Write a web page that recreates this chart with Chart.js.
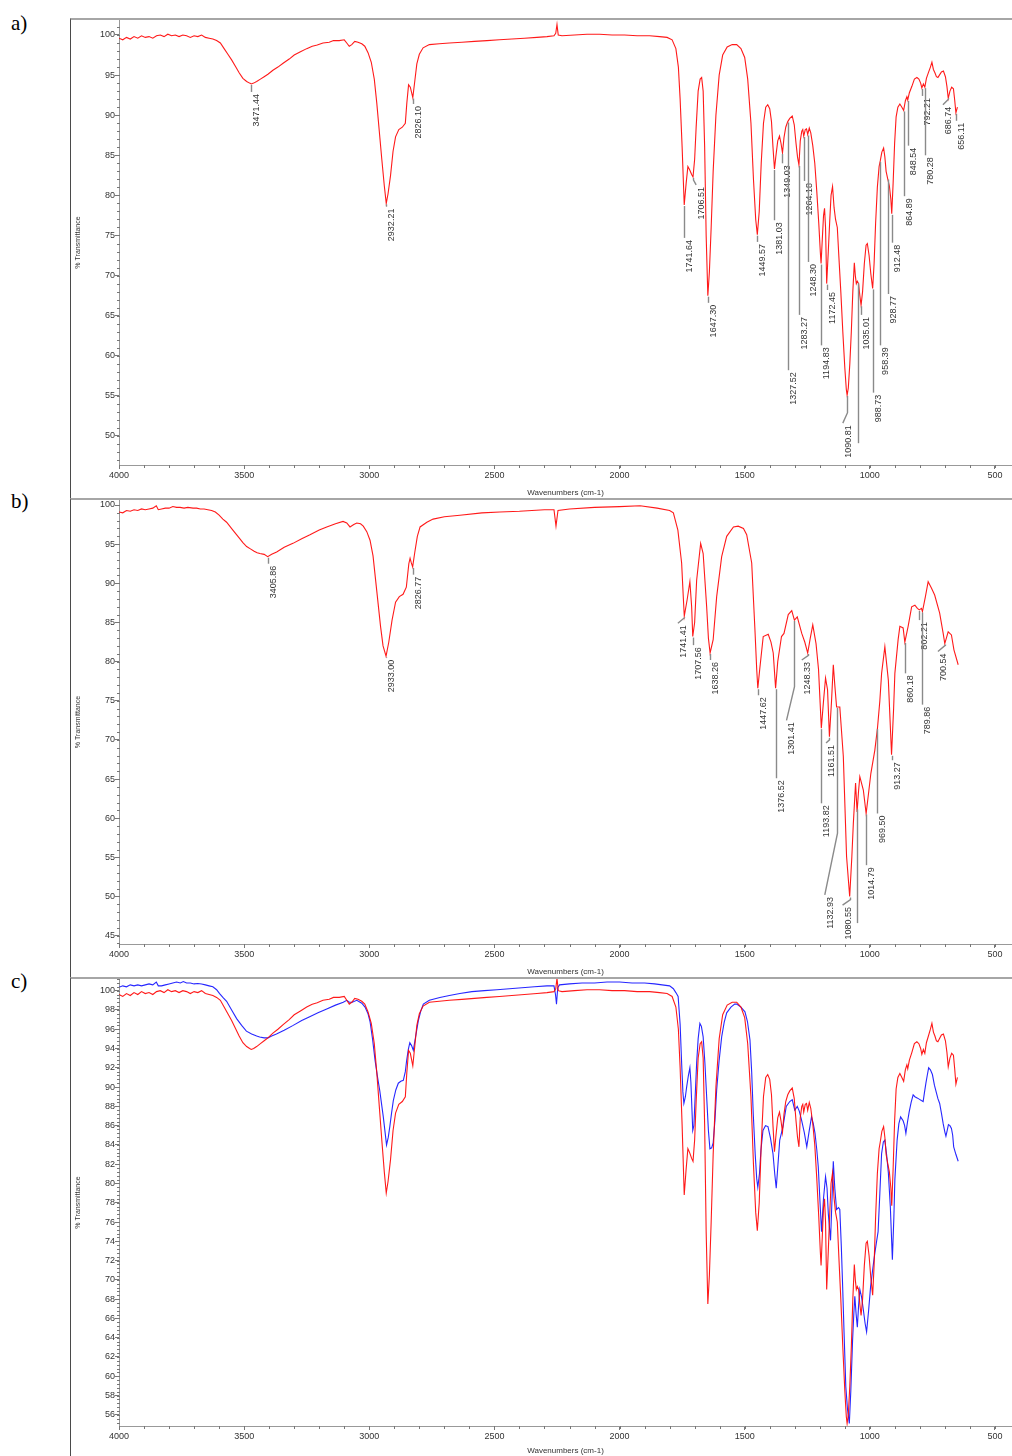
<!DOCTYPE html>
<html>
<head>
<meta charset="utf-8">
<script src="https://cdn.jsdelivr.net/npm/chart.js@4.4.1/dist/chart.umd.min.js"></script>
<style>
  body { margin: 0; background: #fff; width: 1012px; height: 1456px; position: relative; overflow: hidden; }
  .panel { position: absolute; left: 70px; width: 942px; border-top: 2px solid #a6a6a6; border-left: 1px solid #4a4a4a; box-sizing: border-box; }
  .panel canvas { display: block; }
  .tag { position: absolute; left: 11px; font-family: "Liberation Serif", "Times New Roman", serif; font-size: 21px; color: #000; }
</style>
</head>
<body>
<div class="tag" style="top:11px">a)</div>
<div class="tag" style="top:489px">b)</div>
<div class="tag" style="top:969px">c)</div>
<div class="panel" style="top:18px;height:480px"><canvas id="chartA" width="941" height="478"></canvas></div>
<div class="panel" style="top:498px;height:479px"><canvas id="chartB" width="941" height="477"></canvas></div>
<div class="panel" style="top:977px;height:479px"><canvas id="chartC" width="941" height="477"></canvas></div>
<script>
// Axis ticks
const xTicks = [4000, 3500, 3000, 2500, 2000, 1500, 1000, 500]
const yTicksA = [100, 95, 90, 85, 80, 75, 70, 65, 60, 55, 50]
const yTicksB = [100, 95, 90, 85, 80, 75, 70, 65, 60, 55, 50, 45]
const yTicksC = [100, 98, 96, 94, 92, 90, 88, 86, 84, 82, 80, 78, 76, 74, 72, 70, 68, 66, 64, 62, 60, 58, 56]

// Spectrum a (wavenumber, %T) - also the red trace of c
const specA = [
  [4000,99.6],[3985,99.4],[3970,99.7],[3955,99.5],[3940,99.8],[3925,99.6],[3910,99.9],[3895,99.7],[3880,99.8],[3865,99.6],
  [3850,99.9],[3835,100.0],[3820,99.8],[3805,100.1],[3790,99.9],[3775,100.0],[3760,99.8],[3745,100.0],[3730,99.9],[3715,99.7],
  [3700,99.9],[3685,99.8],[3670,100.0],[3655,99.7],[3640,99.6],[3625,99.5],[3610,99.3],[3595,99.0],[3580,98.3],[3565,97.6],
  [3550,96.9],[3535,96.1],[3520,95.3],[3505,94.6],[3490,94.2],[3478,94.0],[3471.44,93.9],[3462,94.0],[3450,94.2],[3435,94.5],
  [3420,94.8],[3405,95.1],[3385,95.6],[3365,96.0],[3343,96.5],[3320,97.0],[3300,97.5],[3275,97.9],[3250,98.3],[3228,98.6],
  [3208,98.75],[3185,99.0],[3160,99.1],[3143,99.3],[3120,99.3],[3100,99.4],[3090,99.0],[3080,98.6],[3070,98.8],[3058,99.2],
  [3045,99.1],[3030,98.9],[3018,98.6],[3005,97.8],[2992,96.6],[2980,94.5],[2970,91.5],[2960,88],[2950,84.5],[2940,81.2],
  [2932.21,79.0],[2925,80.2],[2915,82.5],[2905,85.5],[2895,87.3],[2882,88.2],[2868,88.5],[2856,89.0],[2850,91.5],[2843,93.8],
  [2836,93.5],[2826.1,92.2],[2818,94.3],[2810,96.4],[2800,97.6],[2785,98.4],[2760,98.8],[2720,98.9],[2680,99.0],[2630,99.1],
  [2580,99.2],[2530,99.3],[2480,99.4],[2430,99.5],[2380,99.6],[2330,99.7],[2290,99.8],[2262,99.9],[2255,100.2],[2250,101.3],
  [2245,100.0],[2230,99.9],[2180,100.0],[2130,100.1],[2080,100.1],[2030,100.0],[1980,100.0],[1930,99.9],[1880,99.9],[1840,99.8],
  [1810,99.7],[1790,99.4],[1775,98.3],[1765,96],[1758,92],[1750,86],[1741.64,78.8],[1734,81.5],[1727,83.6],[1720,83.2],
  [1712,82.6],[1706.51,82.3],[1700,84.5],[1694,88.5],[1686,93.0],[1678,94.5],[1672,94.7],[1666,93.0],[1660,86],[1654,75],
  [1647.3,67.5],[1641,70.5],[1634,76],[1626,83],[1615,90],[1602,95],[1588,97.5],[1570,98.5],[1550,98.8],[1532,98.8],
  [1515,98.3],[1500,97.2],[1488,94.5],[1475,89],[1465,82],[1456,77],[1449.57,75.1],[1442,78],[1434,84],[1425,89],
  [1416,91.0],[1408,91.3],[1400,90.8],[1393,89.2],[1387,86],[1381.03,83.3],[1375,85],[1368,86.8],[1361,87.4],[1355,86.5],
  [1349.03,85.3],[1343,87.2],[1336,88.5],[1328,89.2],[1320,89.6],[1310,89.9],[1302,88.8],[1295,86.5],[1289,84.8],[1283.27,83.8],
  [1278,86.8],[1272,88.0],[1268,88.2],[1264.18,87.4],[1258,88.2],[1253,88.3],[1248.3,87.6],[1242,88.4],[1236,87.8],[1228,86.2],
  [1220,84],[1212,80.5],[1204,76.5],[1198,73],[1194.83,71.5],[1190,74.5],[1185,77.5],[1181,78.4],[1177,76],[1172.45,69],
  [1166,73],[1160,77],[1155,80],[1149,81.1],[1143,78.5],[1137,77],[1130,76],[1124,72.5],[1116,68],[1108,63],
  [1100,58.5],[1094,55.8],[1090.81,55.1],[1086,56],[1080,59],[1074,63],[1068,68],[1062,71.6],[1058,70],[1054,69],
  [1050,69.3],[1045,69.0],[1040,67.5],[1035.01,66.3],[1029,68],[1022,71.5],[1015,73.8],[1010,74.0],[1003,72.5],[996,70.2],
  [988.73,68.4],[983,71.5],[977,76.5],[970,81],[963,83.6],[958.39,84.3],[952,85.4],[945,85.9],[940,84.8],[935,83],
  [928.77,82.1],[922,81.2],[916,79.5],[912.48,77.7],[907,81.5],[901,86.5],[895,89.8],[888,91.0],[880,91.4],[872,91.0],
  [864.89,90.6],[858,91.8],[852,92.3],[848.54,91.9],[842,92.8],[832,93.6],[822,94.5],[812,94.7],[804,94.5],[797,94.0],
  [792.21,93.4],[786,93.9],[780.28,93.5],[774,94.6],[766,95.3],[758,96.0],[752,96.6],[746,95.7],[740,95.3],[734,94.8],
  [728,94.7],[722,95.0],[714,95.4],[706,95.5],[698,94.8],[692,93.6],[686.74,92.1],[680,93.0],[673,93.5],[666,93.3],
  [661,91.9],[656.11,90.3],[650,91.0]
]

// Spectrum b
const specB = [
  [4000,99.1],[3985,99.0],[3970,99.3],[3955,99.2],[3940,99.4],[3925,99.3],[3910,99.5],[3895,99.4],[3880,99.5],[3865,99.6],
  [3851,99.9],[3843,99.4],[3830,99.5],[3815,99.6],[3800,99.6],[3785,99.8],[3770,99.7],[3756,99.7],[3740,99.6],[3725,99.7],
  [3704,99.6],[3690,99.6],[3675,99.5],[3660,99.5],[3645,99.4],[3630,99.3],[3615,99.1],[3600,98.7],[3585,98.2],[3570,97.8],
  [3545,96.8],[3520,95.8],[3505,95.2],[3490,94.7],[3475,94.4],[3460,94.1],[3448,93.9],[3437,93.8],[3420,93.7],[3405.86,93.4],
  [3390,93.7],[3370,94.0],[3340,94.6],[3305,95.1],[3270,95.7],[3237,96.2],[3200,96.8],[3170,97.2],[3135,97.6],[3105,97.9],
  [3090,97.7],[3077,97.2],[3062,97.5],[3050,97.7],[3035,97.6],[3024,97.3],[3010,96.6],[2997,95.5],[2985,93.5],[2970,89],
  [2955,84.5],[2945,82],[2933,80.7],[2922,82.5],[2909,85.3],[2895,87.6],[2880,88.3],[2865,88.6],[2852,89.5],[2842,92.5],
  [2837,93.2],[2832,92.6],[2826.77,92.1],[2818,94],[2808,96],[2797,97.2],[2770,97.8],[2745,98.2],[2700,98.5],[2638,98.7],
  [2550,99.0],[2478,99.1],[2400,99.2],[2300,99.4],[2262,99.4],[2254,97.3],[2246,99.3],[2200,99.5],[2100,99.7],[2000,99.8],
  [1918,99.9],[1850,99.6],[1800,99.3],[1785,99.0],[1767,96.8],[1752,92.6],[1745,88],[1741.41,85.8],[1730,87.9],[1719,90.2],
  [1712,87],[1707.56,83.2],[1700,85],[1692,90.4],[1676,95.1],[1666,93.8],[1652,87],[1645,83],[1638.26,81.1],[1626,82.8],
  [1612,88.3],[1592,93.4],[1572,96.0],[1545,97.2],[1526,97.3],[1505,97.0],[1492,96.2],[1472,92.6],[1459,84],[1452,79],
  [1447.62,76.6],[1440,79],[1426,83.2],[1406,83.5],[1395,82.5],[1386,81.1],[1376.52,76.6],[1368,80],[1353,83.2],[1343,83.6],
  [1326,86.0],[1312,86.5],[1301.41,85.3],[1290,85.7],[1272,83.6],[1260,82.5],[1248.33,81.1],[1238,83],[1228,84.7],[1215,82.3],
  [1205,79],[1193.82,71.5],[1185,75],[1177,77.9],[1169,76.4],[1161.51,70.4],[1153,75],[1146,79.6],[1140,77],[1132.93,74.2],
  [1120,74.2],[1106,67.9],[1093,55.1],[1080.55,50.0],[1072,55],[1066,59.3],[1057,64.5],[1051,60.8],[1045,63.5],[1040,65.3],
  [1026,63.6],[1014.79,60.6],[1004,63.5],[996,65.7],[980,68.7],[969.5,71.5],[960,75],[953,78.5],[940,81.9],[926,77.6],
  [913.27,68.1],[905,74],[900,78.5],[887,82.8],[880,84.5],[867,84.3],[860.18,82.5],[847,84.5],[833,87.0],[820,87.2],
  [810,86.8],[802.21,86.6],[794,86.8],[789.86,86.4],[778,88.3],[767,90.2],[754,89.4],[741,88.5],[721,86.2],[707,83.6],
  [700.54,82.3],[687,83.8],[674,83.4],[664,81.5],[647,79.6]
]

// Blue trace of c
const specC = [
  [4000,100.35],[3985,100.5],[3970,100.4],[3955,100.6],[3940,100.5],[3925,100.6],[3910,100.5],[3895,100.6],[3880,100.7],[3865,100.6],
  [3851,100.9],[3843,100.5],[3830,100.5],[3815,100.6],[3800,100.7],[3785,100.8],[3770,100.9],[3755,100.8],[3743,100.95],[3730,100.8],
  [3715,100.8],[3700,100.7],[3685,100.75],[3670,100.7],[3655,100.6],[3640,100.5],[3625,100.4],[3610,100.1],[3598,99.7],[3585,99.3],
  [3570,98.9],[3550,98.0],[3530,97.1],[3510,96.4],[3491,95.8],[3470,95.5],[3450,95.3],[3438,95.2],[3420,95.1],[3405,95.1],
  [3390,95.3],[3371,95.5],[3340,95.9],[3304,96.4],[3270,96.9],[3238,97.3],[3205,97.7],[3170,98.1],[3135,98.5],[3104,98.8],
  [3090,99.0],[3080,98.8],[3068,98.8],[3050,99.0],[3030,98.7],[3017,98.3],[3005,97.6],[2997,96.8],[2987,95],[2977,92.8],
  [2968,91.2],[2958,89.6],[2944,86.9],[2931,84.0],[2924,84.8],[2918,85.9],[2911,87.3],[2904,88.6],[2894,89.7],[2884,90.4],
  [2874,90.6],[2864,90.7],[2856,91.6],[2851,92.7],[2844,93.9],[2838,94.6],[2831,94.3],[2824,93.8],[2815,95.2],[2804,96.9],
  [2794,97.9],[2784,98.6],[2760,99.0],[2718,99.3],[2680,99.5],[2638,99.7],[2590,99.9],[2540,100.0],[2490,100.1],[2440,100.2],
  [2390,100.3],[2340,100.4],[2290,100.5],[2262,100.5],[2256,99.6],[2252,98.6],[2247,100.3],[2240,100.6],[2200,100.7],[2150,100.8],
  [2100,100.8],[2050,100.9],[2000,100.9],[1950,100.8],[1900,100.8],[1860,100.7],[1830,100.6],[1800,100.5],[1785,100.2],[1775,99.8],
  [1766,99.4],[1758,96.5],[1752,92.5],[1747,89.5],[1743,88.3],[1737,89],[1732,90.0],[1725,91.2],[1719,92.0],[1715,90.5],
  [1712,88.5],[1707.6,85.5],[1703,86],[1698,89],[1692,92.5],[1686,95],[1679,96.6],[1673,96.3],[1666,95.2],[1659,92.5],
  [1652,89.0],[1645,85.5],[1639,83.6],[1632,83.7],[1626,84.2],[1619,86.5],[1612,89.7],[1602,92.8],[1592,95.2],[1582,96.7],
  [1572,97.7],[1555,98.3],[1540,98.6],[1532,98.6],[1515,98.3],[1499,97.8],[1489,96.8],[1479,94.9],[1472,91.5],[1466,87.3],
  [1458,83],[1452,80.5],[1447.6,79.6],[1441,81],[1435,83.5],[1427,85.5],[1417,86],[1407,85.9],[1397,84.7],[1387,83.1],
  [1380,81],[1374,79.5],[1367,82],[1360,84.5],[1347,85.9],[1334,88.0],[1320,88.5],[1310,88.7],[1300,87.6],[1290,88.0],
  [1282,87.5],[1273,86.6],[1262,85.3],[1252,83.8],[1242,85.5],[1233,86.9],[1226,86.2],[1219,85.2],[1212,83.5],[1206,81.7],
  [1199,78],[1193,75.0],[1185,78.5],[1177,80.7],[1171,79.5],[1166,76.9],[1157,74.1],[1151,78.5],[1146,82.3],[1140,79.5],
  [1133,77.3],[1125,77.5],[1120,77.3],[1114,73.5],[1109,69.6],[1103,64.5],[1096,58.9],[1089,56.5],[1082,55.1],[1076,58.5],
  [1069,63.7],[1064,66.5],[1060,68.3],[1055,66.5],[1050,65.1],[1045,67.3],[1040,69.0],[1033,68.2],[1026,66.9],[1019,65.5],
  [1013,64.6],[1005,66.8],[997,69.3],[988,71.2],[980,72.8],[973,74],[967,75.0],[960,79],[953,83.1],[946,84.3],
  [940,84.5],[933,83],[926,81.1],[918,77.5],[910,72.1],[904,76.5],[900,80.4],[891,84.5],[884,86.2],[877,86.9],
  [872,86.7],[867,86.5],[861,86.0],[856,85.2],[850,86.3],[843,87.4],[835,88.4],[827,89.2],[820,89.0],[813,88.9],
  [806,88.8],[800,88.7],[794,88.6],[787,88.5],[782,89.4],[776,90.4],[770,91.3],[765,92.0],[758,91.8],[750,91.3],
  [742,90.2],[734,89.4],[728,88.8],[721,88.3],[714,87.3],[707,86.2],[700,85.3],[696,84.9],[690,85.6],[686,86.1],
  [680,86.0],[674,85.7],[669,85.0],[665,83.8],[656,83.0],[647,82.3]
]

// Peak labels: wn, depth of the leader in %T, optional bent end (tx, te)
const peaksA = [
  {wn:3471.44,end:92.9},{wn:2932.21,end:78.6},{wn:2826.10,end:91.4},
  {wn:1741.64,end:74.7},{wn:1706.51,end:81.9,tx:1694,te:81.3},{wn:1647.30,end:66.6},
  {wn:1449.57,end:74.2},{wn:1381.03,end:76.9},{wn:1349.03,end:84.0},{wn:1327.52,end:58.2},
  {wn:1283.27,end:65.1},{wn:1264.18,end:81.8},{wn:1248.30,end:71.7},{wn:1194.83,end:61.3},
  {wn:1172.45,end:68.2},{wn:1090.81,end:52.9,tx:1108,te:51.6},{wn:1048,end:49.1,blank:true},
  {wn:1035.01,end:65.1},{wn:988.73,end:55.4},{wn:958.39,end:61.3},{wn:928.77,end:67.7},
  {wn:912.48,end:74.1},{wn:864.89,end:79.9},{wn:848.54,end:86.2},{wn:792.21,end:92.4},
  {wn:780.28,end:85.0},{wn:686.74,end:92.0,tx:708,te:91.3},{wn:656.11,end:89.3}
]
const peaksB = [
  {wn:3405.86,end:92.5},{wn:2933.00,end:80.5},{wn:2826.77,end:91.1},
  {wn:1741.41,end:85.6,tx:1767,te:84.9},{wn:1707.56,end:82.1},{wn:1638.26,end:80.2},
  {wn:1447.62,end:75.7},{wn:1376.52,end:65.1},{wn:1301.41,end:76.8,tx:1333,te:72.5},
  {wn:1248.33,end:80.8,tx:1272,te:80.2},{wn:1193.82,end:61.9},{wn:1161.51,end:70.0,tx:1175,te:69.6},
  {wn:1132.93,end:58.1,tx:1180,te:50.2},{wn:1080.55,end:49.6,tx:1109,te:48.9},{wn:1050,end:46.6,blank:true},
  {wn:1014.79,end:54.0},{wn:969.50,end:60.6},{wn:913.27,end:67.4},{wn:860.18,end:78.5},
  {wn:802.21,end:85.3},{wn:789.86,end:74.5},{wn:700.54,end:82.1,tx:728,te:81.3}
]

const FONT = 'Arial, "Liberation Sans", sans-serif'

// value of a spectrum at a wavenumber (points are in descending order)
function valueAt(pts, wn) {
  for (let i = 1; i < pts.length; i++) {
    const a = pts[i - 1], b = pts[i]
    if (wn <= a.x && wn >= b.x) return a.y + (b.y - a.y) * (a.x - wn) / (a.x - b.x)
  }
  return pts[pts.length - 1].y
}

// small ticks between the labelled ones
const minorTicks = {
  id: "minorTicks",
  afterDraw(chart, args, opts) {
    const { ctx, scales: { x, y } } = chart
    ctx.save()
    ctx.strokeStyle = "#777"
    ctx.lineWidth = 1
    ctx.beginPath()
    for (let v = 4000; v >= x.min; v -= 100) {
      const px = Math.round(x.getPixelForValue(v)) + 0.5
      ctx.moveTo(px, x.top)
      ctx.lineTo(px, x.top + 3)
    }
    const n = Math.floor((y.max - y.min) / opts.step)
    const start = Math.ceil(y.min / opts.step) * opts.step
    for (let i = 0; i <= n; i++) {
      const v = start + i * opts.step
      if (v > y.max) break
      const py = Math.round(y.getPixelForValue(v)) + 0.5
      ctx.moveTo(y.right - 2, py)
      ctx.lineTo(y.right + 1, py)
    }
    ctx.stroke()
    ctx.restore()
  },
}

// peak markers with their wavenumber written sideways
const peakLabels = {
  id: "peakLabels",
  afterDatasetsDraw(chart, args, opts) {
    if (!opts.list) return
    const { ctx, scales: { x, y } } = chart
    const pts = chart.data.datasets[0].data
    ctx.save()
    ctx.strokeStyle = "#8a8a8a"
    ctx.lineWidth = 1.4
    ctx.fillStyle = "#333"
    ctx.font = "9px " + FONT
    opts.list.forEach((p) => {
      const x0 = Math.round(x.getPixelForValue(p.wn)) + 0.5
      const y0 = y.getPixelForValue(valueAt(pts, p.wn)) + 1
      const y1 = y.getPixelForValue(p.end)
      ctx.beginPath()
      ctx.moveTo(x0, y0)
      ctx.lineTo(x0, y1)
      let tx = x0, ty = y1
      if (p.tx) {
        tx = x.getPixelForValue(p.tx)
        ty = y.getPixelForValue(p.te)
        ctx.lineTo(tx, ty)
      }
      ctx.stroke()
      if (p.blank) return
      ctx.save()
      ctx.translate(tx + 1, ty + 2)
      ctx.rotate(-Math.PI / 2)
      ctx.textAlign = "right"
      ctx.textBaseline = "top"
      ctx.fillText(p.wn.toFixed(2), 0, 0)
      ctx.restore()
    })
    ctx.restore()
  },
}

function toPoints(spec) {
  return spec.map((p) => ({ x: p[0], y: p[1] }))
}

function makeConfig(datasets, yMin, yMax, yTicks, yStep, xHeight, peaks) {
  return {
    type: "line",
    data: { datasets: datasets },
    options: {
      responsive: false,
      animation: false,
      devicePixelRatio: 1,
      layout: { padding: 0 },
      elements: { point: { radius: 0 }, line: { tension: 0 } },
      plugins: {
        legend: { display: false },
        tooltip: { enabled: false },
        minorTicks: { step: yStep },
        peakLabels: { list: peaks },
      },
      scales: {
        x: {
          type: "linear",
          reverse: true,
          min: 432,
          max: 4000,
          afterBuildTicks: (s) => { s.ticks = xTicks.map((v) => ({ value: v })) },
          afterFit: (s) => { s.height = xHeight; s.paddingLeft = 0; s.paddingRight = 0 },
          grid: { drawOnChartArea: false, tickLength: 4, color: "#777" },
          border: { color: "#999", width: 1 },
          ticks: { color: "#333", font: { size: 9, family: FONT }, padding: 1, maxRotation: 0, autoSkip: false, callback: (v) => String(v) },
          title: { display: true, text: "Wavenumbers (cm-1)", color: "#333", font: { size: 8, family: FONT }, padding: { top: 3, bottom: 0 } },
        },
        y: {
          min: yMin,
          max: yMax,
          afterBuildTicks: (s) => { s.ticks = yTicks.map((v) => ({ value: v })) },
          afterFit: (s) => { s.width = 48; s.paddingTop = 0; s.paddingBottom = 0 },
          grid: { drawOnChartArea: false, tickLength: 4, color: "#777" },
          border: { color: "#999", width: 1 },
          ticks: { color: "#333", font: { size: 9, family: FONT }, padding: 0, autoSkip: false, callback: (v) => String(v) },
          title: { display: true, text: "% Transmittance", color: "#333", font: { size: 7, family: FONT }, padding: { top: 3, bottom: 0 } },
        },
      },
    },
    plugins: [minorTicks, peakLabels],
  }
}

const redLine = { borderColor: "rgba(255, 0, 0, 0.9)", borderWidth: 1.1, fill: false }
const blueLine = { borderColor: "rgba(0, 0, 255, 0.85)", borderWidth: 1.1, fill: false }

const chartA = new Chart(document.getElementById("chartA"),
  makeConfig([{ label: "a", data: toPoints(specA), ...redLine }], 46.38, 101.87, yTicksA, 1, 33, peaksA))

const chartB = new Chart(document.getElementById("chartB"),
  makeConfig([{ label: "b", data: toPoints(specB), ...redLine }], 43.93, 100.64, yTicksB, 1, 33, peaksB))

const chartC = new Chart(document.getElementById("chartC"),
  makeConfig([
    { label: "a", data: toPoints(specA), ...redLine },
    { label: "blue", data: toPoints(specC), ...blueLine },
  ], 54.84, 101.21, yTicksC, 0.4, 30, null))
</script>
</body>
</html>
